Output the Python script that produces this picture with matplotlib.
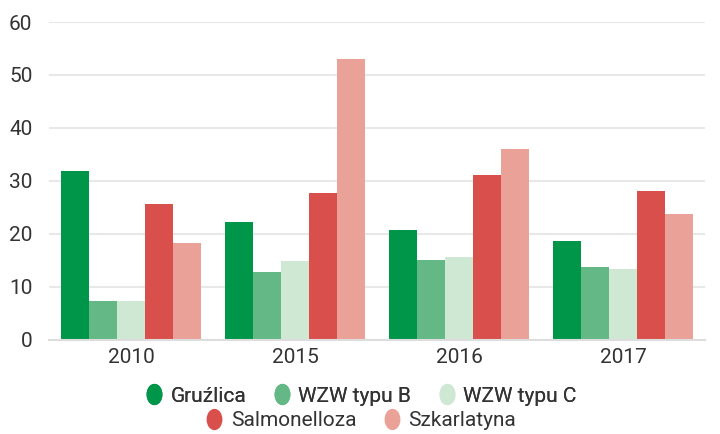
import matplotlib
matplotlib.use("Agg")
import matplotlib.pyplot as plt
import numpy as np
from matplotlib.lines import Line2D
from matplotlib.markers import MarkerStyle
from matplotlib.transforms import Affine2D

plt.rcParams['font.family'] = ['Liberation Sans Narrow', 'Roboto', 'DejaVu Sans']

years = ["2010", "2015", "2016", "2017"]
series = ["Gruźlica", "WZW typu B", "WZW typu C", "Salmonelloza", "Szkarlatyna"]
gruzlica = [31.9, 22.3, 20.8, 18.6]
wzw_b = [7.4, 12.7, 15.0, 13.8]
wzw_c = [7.4, 14.8, 15.7, 13.3]
salmonelloza = [25.7, 27.7, 31.1, 28.1]
szkarlatyna = [18.2, 53.0, 36.0, 23.8]
colors = ["#00964a", "#64b886", "#cfe8d4", "#d84f4c", "#eaa197"]

values = [gruzlica, wzw_b, wzw_c, salmonelloza, szkarlatyna]
text_color = "#333333"

fig = plt.figure(figsize=(7.2, 4.34), dpi=100)
ax = fig.add_axes([49 / 720, 1 - 339.7 / 434, 656 / 720, 317.7 / 434])

x = np.arange(len(years))
width = 0.1707
for i, (name, vals) in enumerate(zip(series, values)):
    ax.bar(x + (i - 2) * width, vals, width, color=colors[i], label=name, zorder=2)

ax.set_xlim(-0.5, len(years) - 0.5)
ax.set_ylim(0, 60)
ax.set_yticks(range(0, 61, 10))
ax.set_xticks(x)
ax.set_xticklabels(years)
ax.grid(axis="y", color="#e8e8e8", linewidth=1.5, zorder=0)
for s in ["top", "right", "left"]:
    ax.spines[s].set_visible(False)
ax.spines["bottom"].set_color("#dddddd")
ax.spines["bottom"].set_linewidth(1.5)
ax.tick_params(axis="both", length=0, labelsize=15, colors=text_color)
ax.tick_params(axis="y", pad=12)
ax.tick_params(axis="x", pad=6)

oval = MarkerStyle("o", transform=Affine2D().scale(0.8, 1.1))
handles = [Line2D([], [], linestyle="none", marker=oval, markersize=13,
                  markerfacecolor=c, markeredgecolor=c) for c in colors]

leg1 = fig.legend(handles[:3], series[:3], loc="center", bbox_to_anchor=(0.5, 1 - 396 / 434),
                  ncol=3, frameon=False, fontsize=15, handletextpad=0.3, columnspacing=1.2,
                  handlelength=1.0, labelcolor=text_color, borderaxespad=0, borderpad=0)
fig.add_artist(leg1)
fig.legend(handles[3:], series[3:], loc="center", bbox_to_anchor=(0.5, 1 - 421 / 434),
           ncol=2, frameon=False, fontsize=15, handletextpad=0.3, columnspacing=1.2,
           handlelength=1.0, labelcolor=text_color, borderaxespad=0, borderpad=0)

fig.savefig("out.png", dpi=100)
